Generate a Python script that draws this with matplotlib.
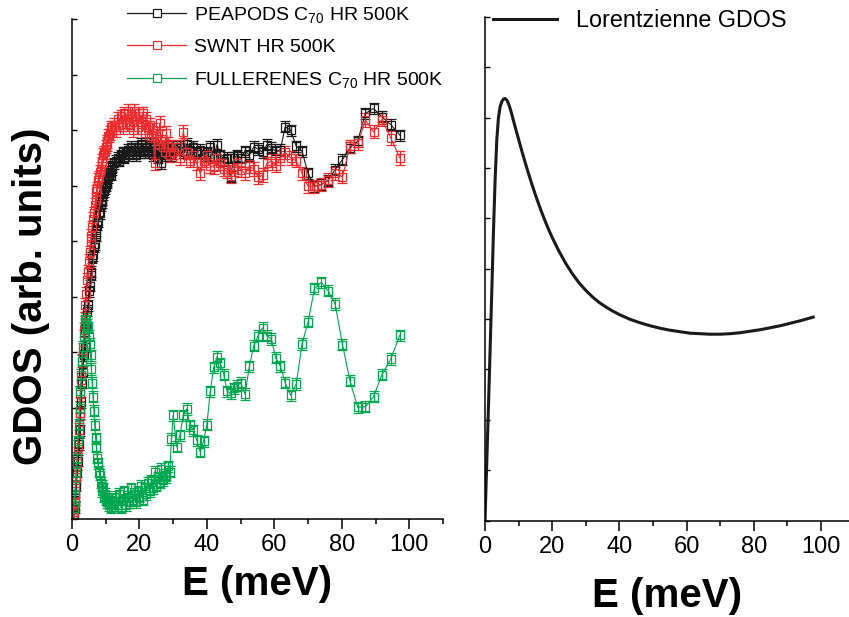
import matplotlib
matplotlib.use("Agg")
import matplotlib.pyplot as plt
from matplotlib.lines import Line2D
from matplotlib.ticker import MultipleLocator

plt.rcParams['font.family'] = ['Liberation Sans', 'DejaVu Sans']
plt.rcParams['mathtext.fontset'] = 'custom'
plt.rcParams['mathtext.rm'] = 'Liberation Sans'
plt.rcParams['mathtext.default'] = 'rm'

# energy grid shared by the three measured spectra (meV)
energy = [0.25, 0.5, 0.75, 1.0, 1.25, 1.5, 1.75, 2.0, 2.25, 2.5, 2.75, 3.0,
          3.25, 3.5, 3.75, 4.0, 4.25, 4.5, 4.75, 5.0, 5.25, 5.5, 5.75, 6.0,
          6.25, 6.5, 6.75, 7.0, 7.25, 7.5, 7.75, 8.0, 8.25, 8.5, 8.75, 9.0,
          9.25, 9.5, 9.75, 10.0, 10.25, 10.5, 10.75, 11.0, 11.25, 11.5, 11.75, 12.0,
          12.5, 13.0, 13.5, 14.0, 14.5, 15.0, 15.5, 16.0, 16.5, 17.0, 17.5, 18.0,
          18.5, 19.0, 19.5, 20.0, 20.5, 21.0, 21.5, 22.0, 22.5, 23.0, 23.5, 24.0,
          24.5, 25.0, 25.5, 26.0, 26.5, 27.0, 27.5, 28.0, 28.5, 29.0, 29.5, 30.0,
          31, 32, 33, 34, 35, 36, 37, 38, 39, 40, 41, 42, 43, 44, 45, 46, 47, 48, 49, 50,
          51.3, 52.6, 53.9, 55.2, 56.5, 57.8, 59.1, 60.4, 61.8, 63.2, 64.8, 66.5, 68.2, 70.0,
          71.9, 73.9, 75.9, 78.0, 80.2, 82.4, 84.7, 87.0, 89.4, 91.9, 94.5, 97.2]

peapods = [0.03, 0.08, 0.2, 0.35, 0.6, 0.85, 1.05, 1.35, 1.6, 1.9, 2.1, 2.45,
           2.65, 2.95, 3.1, 3.4, 3.5, 3.75, 3.85, 4.1, 4.2, 4.4, 4.45, 4.7,
           4.75, 4.9, 4.95, 5.1, 5.2, 5.3, 5.35, 5.5, 5.5, 5.65, 5.7, 5.75,
           5.85, 5.9, 5.95, 6.0, 6.1, 6.05, 6.15, 6.2, 6.25, 6.2, 6.3, 6.35,
           6.4, 6.45, 6.5, 6.45, 6.55, 6.6, 6.5, 6.6, 6.65, 6.55, 6.7, 6.6,
           6.65, 6.55, 6.7, 6.6, 6.75, 6.65, 6.6, 6.7, 6.6, 6.75, 6.65, 6.55,
           6.7, 6.6, 6.5, 6.65, 6.4, 6.6, 6.55, 6.7, 6.6, 6.65, 6.55, 6.7,
           6.65, 6.7, 6.6, 6.75, 6.65, 6.7, 6.6, 6.65, 6.55, 6.6, 6.7, 6.5, 6.74, 6.55, 6.45,
           6.5, 6.16, 6.5, 6.55, 6.5,
           6.62, 6.55, 6.7, 6.66, 6.6, 6.74, 6.68, 6.62, 6.65, 7.06, 7.0, 6.71, 6.62, 6.22,
           5.99, 6.02, 6.09, 6.29, 6.47, 6.68, 6.80, 7.30, 7.39, 7.24, 7.10, 6.91]

swnt = [0.04, 0.12, 0.28, 0.45, 0.75, 1.0, 1.3, 1.6, 1.9, 2.25, 2.5, 2.85,
        3.05, 3.4, 3.6, 3.85, 4.05, 4.3, 4.45, 4.65, 4.8, 5.0, 5.1, 5.25,
        5.4, 5.5, 5.65, 5.75, 5.9, 5.95, 6.1, 6.15, 6.25, 6.3, 6.4, 6.45,
        6.55, 6.6, 6.6, 6.7, 6.8, 6.75, 6.9, 6.9, 6.95, 7.05, 7.0, 7.05,
        7.1, 7.0, 7.2, 7.1, 7.25, 7.05, 7.3, 7.15, 7.35, 7.1, 7.25, 7.0,
        7.35, 7.2, 7.05, 7.3, 7.15, 7.3, 6.95, 7.2, 7.05, 7.1, 6.9, 7.0,
        6.4, 6.9, 6.75, 7.13, 6.8, 6.7, 6.6, 6.95, 6.75, 6.55, 6.7, 6.6,
        6.7, 6.5, 6.97, 6.6, 6.45, 6.55, 6.4, 6.22, 6.45, 6.55, 6.35, 6.33, 6.5, 6.4, 6.3,
        6.25, 6.17, 6.3, 6.4, 6.28,
        6.22, 6.35, 6.3, 6.15, 6.19, 6.4, 6.45, 6.36, 6.5, 6.6, 6.5, 6.45, 6.22, 5.99,
        5.99, 6.02, 6.1, 6.22, 6.16, 6.71, 6.76, 7.18, 6.97, 7.19, 6.86, 6.50]

fullerenes = [0.05, 0.2, 0.4, 0.6, 0.85, 1.1, 1.4, 1.7, 2.0, 2.3, 2.6, 2.85,
              3.1, 3.3, 3.5, 3.55, 3.6, 3.5, 3.45, 3.3, 3.15, 2.95, 2.7, 2.45,
              2.2, 1.95, 1.7, 1.45, 1.3, 1.1, 1.0, 0.85, 0.8, 0.65, 0.6, 0.5,
              0.55, 0.4, 0.45, 0.35, 0.4, 0.3, 0.35, 0.25, 0.3, 0.2, 0.35, 0.25,
              0.3, 0.4, 0.25, 0.45, 0.2, 0.35, 0.5, 0.25, 0.4, 0.3, 0.55, 0.35,
              0.45, 0.3, 0.5, 0.4, 0.6, 0.35, 0.55, 0.45, 0.65, 0.5, 0.7, 0.55,
              0.85, 0.6, 0.75, 0.65, 0.9, 0.7, 0.8, 0.75, 0.95, 0.85, 1.44, 1.87,
              1.30, 1.51, 1.87, 1.98, 1.69, 1.60, 1.42, 1.21, 1.40, 1.70, 2.3, 2.73, 2.92, 2.8, 2.6,
              2.3, 2.26, 2.35, 2.4, 2.45,
              2.25, 2.75, 3.12, 3.3, 3.44, 3.3, 3.24, 2.9, 2.75, 2.45, 2.23, 2.43, 3.15, 3.55,
              4.15, 4.26, 4.11, 3.87, 3.14, 2.49, 2.01, 2.02, 2.2, 2.6, 2.88, 3.31]

err_peapods = 0.1
err_swnt = 0.12
err_fullerenes = 0.1

# Lorentzian model GDOS (right panel)
lor_energy = [0, 0.5, 1, 1.5, 2, 2.5, 3, 3.5, 4, 4.5, 5, 5.5, 6, 6.5, 7, 7.5, 8, 9, 10,
              11, 12, 13, 14, 15, 16, 17, 18, 19, 20, 22, 24, 26, 28, 30, 32, 34, 36, 38,
              40, 43, 46, 49, 52, 55, 58, 61, 64, 67, 70, 73, 76, 79, 82, 85, 88, 91, 94, 97.7]
lor_gdos = [0, 1.1, 2.2, 3.35, 4.5, 5.7, 6.75, 7.55, 8.0, 8.22, 8.32, 8.37, 8.38, 8.35,
            8.28, 8.18, 8.06, 7.81, 7.57, 7.33, 7.1, 6.88, 6.67, 6.47, 6.28, 6.1, 5.93,
            5.77, 5.62, 5.35, 5.11, 4.9, 4.72, 4.57, 4.44, 4.33, 4.24, 4.16, 4.09, 4.0,
            3.93, 3.87, 3.82, 3.78, 3.75, 3.72, 3.71, 3.70, 3.70, 3.71, 3.73, 3.76, 3.79,
            3.83, 3.87, 3.92, 3.97, 4.04]

labels = [r'PEAPODS C$_{70}$ HR 500K', 'SWNT HR 500K', r'FULLERENES C$_{70}$ HR 500K']
colors = ['#1a1a1a', '#ec2b2e', '#00a650']

fig = plt.figure(figsize=(8.49, 6.17), dpi=100)
ax1 = fig.add_axes([72 / 849, 98 / 617, 371 / 849, 500 / 617])
ax2 = fig.add_axes([485 / 849, 96.5 / 617, 364 / 849, 503.5 / 617])

series = [(peapods, err_peapods), (swnt, err_swnt), (fullerenes, err_fullerenes)]
for (vals, err), c in zip(series, colors):
    ax1.errorbar(energy, vals, yerr=err, color=c, lw=0.8, elinewidth=0.9,
                 capsize=3.6, capthick=0.9, marker='s', ms=6.3, mfc='none',
                 mec=c, mew=0.9)

handles = [Line2D([], [], color=c, lw=0.9, marker='s', ms=5.5, mfc='white', mec=c, mew=0.9)
           for c in colors]
ax1.legend(handles, labels, loc='upper left', bbox_to_anchor=(0.148, 1.028),
           frameon=False, fontsize=14, handlelength=3.05, handletextpad=0.42,
           labelspacing=0.7, borderpad=0, borderaxespad=0)

ax2.plot(lor_energy, lor_gdos, color='#1a1a1a', lw=2.2, label='Lorentzienne GDOS')
ax2.legend(loc='upper left', bbox_to_anchor=(0.022, 1.015), frameon=False,
           fontsize=16.8, handlelength=2.75, handletextpad=0.8, borderpad=0,
           borderaxespad=0)

ax1.set_xlim(0, 110)
ax1.set_ylim(0, 9)
ax2.set_xlim(0, 364 / 3.36)
ax2.set_ylim(0, 10)

for ax in (ax1, ax2):
    ax.spines['top'].set_visible(False)
    ax.spines['right'].set_visible(False)
    ax.spines['left'].set_linewidth(1.1)
    ax.spines['bottom'].set_linewidth(1.1)
    ax.xaxis.set_major_locator(MultipleLocator(20))
    ax.xaxis.set_minor_locator(MultipleLocator(10))
    ax.yaxis.set_major_locator(MultipleLocator(1))
    ax.tick_params(axis='x', which='major', direction='out', length=7, width=1.1,
                   labelsize=17, pad=4)
    ax.tick_params(axis='x', which='minor', direction='out', length=3.8, width=1.1)
    ax.tick_params(axis='y', which='major', direction='in', length=3.5, width=1.0,
                   labelleft=False)
    ax.set_xlabel('E (meV)', fontsize=29, fontweight='bold')

ax1.xaxis.set_label_coords(0.5, -0.092)
ax2.xaxis.set_label_coords(0.5, -0.112)
ax1.set_ylabel('GDOS (arb. units)', fontsize=29, fontweight='bold')
ax1.yaxis.set_label_coords(-0.058, 0.446)

fig.savefig('out.png', dpi=100)
